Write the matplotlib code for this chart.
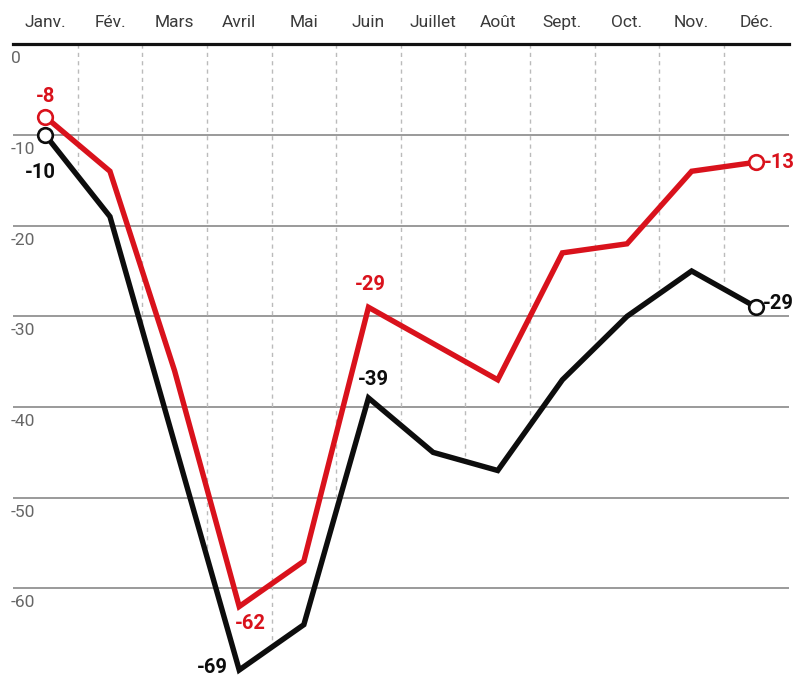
import numpy as np
import matplotlib
matplotlib.use("Agg")
import matplotlib.pyplot as plt

months = ["Janv.", "Fév.", "Mars", "Avril", "Mai", "Juin", "Juillet", "Août",
          "Sept.", "Oct.", "Nov.", "Déc."]
red_vals = [-8, -14, -36, -62, -57, -29, -33, -37, -23, -22, -14, -13]
black_vals = [-10, -19, -44, -69, -64, -39, -45, -47, -37, -30, -25, -29]
y_ticks = [0, -10, -20, -30, -40, -50, -60]

RED = "#d9121c"
BLACK = "#0d0d0d"

plt.rcParams["font.family"] = ["Roboto", "DejaVu Sans"]

fig = plt.figure(figsize=(8.01, 6.75), dpi=100)
W, H = 801, 675
ax = fig.add_axes([13 / W, 0, 775.6 / W, (H - 44.3) / H])
ax.set_xlim(-0.5, 11.5)
ax.set_ylim(-69.55, 0)
ax.axis("off")

x = np.arange(len(months))

# horizontal gridlines
for v in y_ticks[1:]:
    ax.axhline(v, color="#9a9a9a", lw=1.4, zorder=1)
ax.axhline(0, color="#111111", lw=2.3, zorder=2, clip_on=False)

# y labels below gridlines
for v in y_ticks:
    ax.annotate(str(v), xy=(-0.5, v), xytext=(-2, -7), textcoords="offset pixels",
                ha="left", va="top", fontsize=12.5, color="#666666",
                fontweight="normal", annotation_clip=False)

# month labels on top
for i, m in enumerate(months):
    ax.annotate(m, xy=(i, 0), xytext=(0, 22), textcoords="offset pixels",
                ha="center", va="center", fontsize=12.5, color="#3a3a3a",
                fontweight="normal", annotation_clip=False)

# dashed vertical separators from top down to the lower line
for b in np.arange(0.5, 11, 1.0):
    ybot = np.interp(b, x, black_vals)
    ax.plot([b, b], [0, ybot + 0.6], color="#bbbbbb", lw=1.0,
            ls=(0, (3, 3)), zorder=1.5)

# lines
ax.plot(x, black_vals, color=BLACK, lw=3.9, zorder=3, clip_on=False,
        solid_joinstyle="miter")
ax.plot(x, red_vals, color=RED, lw=3.9, zorder=4, clip_on=False,
        solid_joinstyle="miter")

# end markers
for vals, c in [(black_vals, BLACK), (red_vals, RED)]:
    ax.plot([x[0], x[-1]], [vals[0], vals[-1]], ls="none", marker="o",
            markersize=10.5, markerfacecolor="white", markeredgecolor=c,
            markeredgewidth=1.9, zorder=5, clip_on=False)

def lab(i, vals, c, dx, dy, ha="center"):
    ax.annotate(f"-{abs(vals[i])}", xy=(x[i], vals[i]), xytext=(dx, dy),
                textcoords="offset pixels", ha=ha, va="center",
                fontsize=14.5, fontweight="bold", color=c,
                annotation_clip=False, zorder=6)

lab(0, red_vals, RED, 0, 20)
lab(0, black_vals, BLACK, -5, -38)
lab(3, red_vals, RED, 11, -17)
lab(3, black_vals, BLACK, -11, 3, ha="right")
lab(5, red_vals, RED, 2, 23)
lab(5, black_vals, BLACK, 5, 18)
lab(11, red_vals, RED, 8, 0, ha="left")
lab(11, black_vals, BLACK, 7, 4, ha="left")

fig.savefig("out.png", dpi=100)
